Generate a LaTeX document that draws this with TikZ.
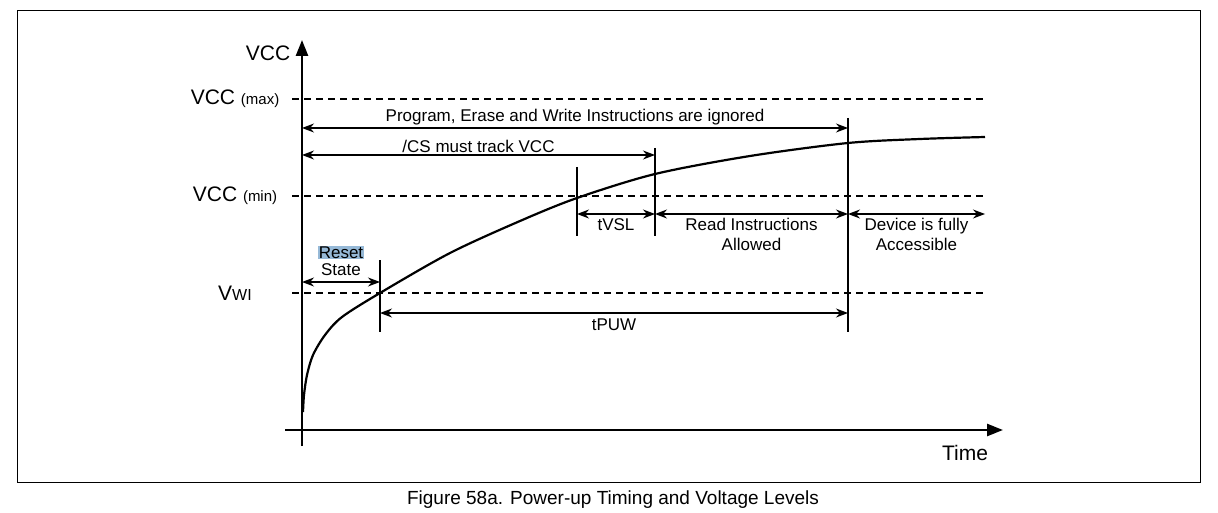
\documentclass[tikz,border=0pt]{standalone}
\usepackage{fontspec}
\setmainfont{Liberation Sans}
\usetikzlibrary{arrows.meta,positioning}
\definecolor{hilite}{RGB}{150,185,215}
\begin{document}
\begin{tikzpicture}[x=1pt,y=-1pt,
    lbl/.style = {font=\fontsize{17}{20}\selectfont, align=center, inner sep=1pt},% labels in the chart
    axl/.style = {font=\fontsize{21}{23}\selectfont, inner sep=0pt},% labels at the axes
    span/.style = {{Stealth[length=12pt,width=9pt]}-{Stealth[length=12pt,width=9pt]}, line width=1.3pt},
    lvl/.style = {dashed, dash pattern=on 7pt off 5pt, line width=1.3pt},
    tick/.style = {line width=1.3pt},
                        ]
\useasboundingbox (0,0) rectangle (1218,513);
\draw[line width=0.9pt] (17,10) rectangle (1200,482);
\node[font=\fontsize{19}{21}\selectfont] (cap) at (613,500) {Figure 58a. Power-up Timing and Voltage Levels};
% axes
\coordinate (o) at (302,430);
\draw[line width=2.6pt, -{Triangle[length=16pt,width=12pt]}] (302,446) -- (302,40) coordinate (ytop);
\draw[line width=2.6pt, -{Triangle[length=16pt,width=12pt]}] (285,430) -- (1003,430) coordinate (xend);
\node[axl] (vcc) at (268,53) {VCC};
\node[axl] (time) at (965,453) {Time};
% levels
\foreach \y/\t/\n in {99/{VCC {\fontsize{15}{16}\selectfont(max)}}/max, 196/{VCC {\fontsize{15}{16}\selectfont(min)}}/min, 293/{V{\fontsize{16}{17}\selectfont WI}}/wi}
{
  \draw[lvl] (292,\y) -- (985,\y);
  \node[axl] (l\n) at (235,\y) {\t};
}
% curve
\draw[line width=2.2pt] plot[smooth, tension=0.5] coordinates {(303,412) (304,395) (307,375) (313,355) (325,335) (342,317) (380,293) (450,253) (520,221) (577,198) (655,174) (750,156) (848,143) (920,139) (985,137)};
% ticks
\coordinate (t1a) at (380,260); \coordinate (t1b) at (380,332);
\coordinate (t2a) at (577,167); \coordinate (t2b) at (577,236);
\coordinate (t3a) at (655,148); \coordinate (t3b) at (655,236);
\coordinate (t4a) at (848,118); \coordinate (t4b) at (848,332);
\foreach \n in {1,...,4}
  \draw[tick] (t\n a) -- (t\n b);
% spans
\draw[span] (302,128) -- node[lbl, above=1pt] {Program, Erase and Write Instructions are ignored} (848,128);
\draw[span] (302,155) -- node[lbl, above=1pt] {/CS must track VCC} (655,155);
\draw[span] (577,214) -- node[lbl, below=3pt] {tVSL} (655,214);
\draw[span] (655,214) -- node[lbl, below=3pt] {Read Instructions\\Allowed} (848,214);
\draw[span] (848,214) -- node[lbl, below=3pt] {Device is fully\\Accessible} (985,214);
\draw[span] (302,282) -- node[lbl, above=5pt] (st) {State} (380,282);
\node[lbl, fill=hilite, above=2pt of st] (rs) {Reset};
\draw[span] (380,313) -- node[lbl, below=4pt] {tPUW} (848,313);
\end{tikzpicture}
\end{document}
